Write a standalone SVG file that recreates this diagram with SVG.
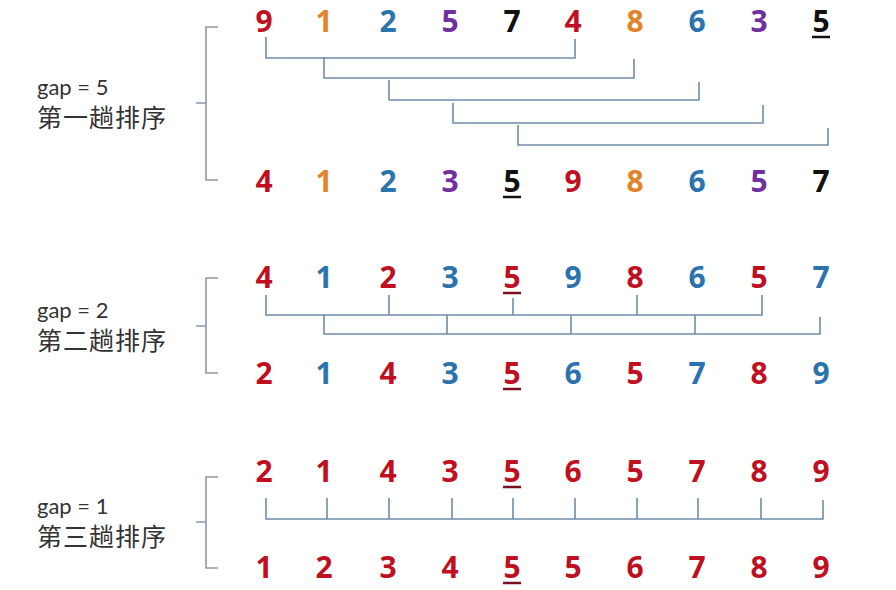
<svg xmlns="http://www.w3.org/2000/svg" width="896" height="590" viewBox="0 0 896 590">
<style>
.n{font-family:"Open Sans",Lato,"Liberation Sans",sans-serif;font-weight:bold;font-size:30px;text-anchor:middle}
.r{fill:#c00f1f}.o{fill:#e3832a}.b{fill:#2a73ae}.p{fill:#7030a0}.k{fill:#111}
.lbl{font-family:Lato,"Noto Sans CJK SC",sans-serif;font-size:22px;fill:#333}
.cjk{font-family:"Noto Sans CJK SC","Noto Sans",sans-serif;font-size:25px;letter-spacing:1px;fill:#333}
.ln{fill:none;stroke:#6f8ca6;stroke-width:1.6}
.br{fill:none;stroke:#8a99a8;stroke-width:1.6}
.ul{stroke-width:2.5}
</style>
<rect width="896" height="590" fill="#fff"/>

<g id="pass1">
  <g id="label1">
    <text class="lbl" x="37" y="95">gap = 5</text>
    <text class="cjk" x="37" y="127">第一趟排序</text>
  </g>
  <path class="br" d="M218,27 H206 V180 H218 M206,103 H196"/>
  <g id="row1a">
    <text class="n r" x="264" y="32">9</text>
    <text class="n o" x="324" y="32">1</text>
    <text class="n b" x="388" y="32">2</text>
    <text class="n p" x="450" y="32">5</text>
    <text class="n k" x="512" y="32">7</text>
    <text class="n r" x="573" y="32">4</text>
    <text class="n o" x="635" y="32">8</text>
    <text class="n b" x="697" y="32">6</text>
    <text class="n p" x="759" y="32">3</text>
    <text class="n k" x="821" y="32">5</text>
    <line class="ul" x1="812" y1="37" x2="830" y2="37" stroke="#111"/>
  </g>
  <g id="row1b">
    <text class="n r" x="264" y="192">4</text>
    <text class="n o" x="324" y="192">1</text>
    <text class="n b" x="388" y="192">2</text>
    <text class="n p" x="450" y="192">3</text>
    <text class="n k" x="512" y="192">5</text>
    <text class="n r" x="573" y="192">9</text>
    <text class="n o" x="635" y="192">8</text>
    <text class="n b" x="697" y="192">6</text>
    <text class="n p" x="759" y="192">5</text>
    <text class="n k" x="821" y="192">7</text>
    <line class="ul" x1="503" y1="197" x2="521" y2="197" stroke="#111"/>
  </g>
</g>

<g id="pass2">
  <g id="label2">
    <text class="lbl" x="37" y="318">gap = 2</text>
    <text class="cjk" x="37" y="350">第二趟排序</text>
  </g>
  <path class="br" d="M218,278 H206 V373 H218 M206,326 H196"/>
  <g id="row2a">
    <text class="n r" x="264" y="288">4</text>
    <text class="n b" x="324" y="288">1</text>
    <text class="n r" x="388" y="288">2</text>
    <text class="n b" x="450" y="288">3</text>
    <text class="n r" x="512" y="288">5</text>
    <text class="n b" x="573" y="288">9</text>
    <text class="n r" x="635" y="288">8</text>
    <text class="n b" x="697" y="288">6</text>
    <text class="n r" x="759" y="288">5</text>
    <text class="n b" x="821" y="288">7</text>
    <line class="ul" x1="503" y1="293" x2="521" y2="293" stroke="#7a1020"/>
  </g>
  <g id="row2b">
    <text class="n r" x="264" y="384">2</text>
    <text class="n b" x="324" y="384">1</text>
    <text class="n r" x="388" y="384">4</text>
    <text class="n b" x="450" y="384">3</text>
    <text class="n r" x="512" y="384">5</text>
    <text class="n b" x="573" y="384">6</text>
    <text class="n r" x="635" y="384">5</text>
    <text class="n b" x="697" y="384">7</text>
    <text class="n r" x="759" y="384">8</text>
    <text class="n b" x="821" y="384">9</text>
    <line class="ul" x1="503" y1="389" x2="521" y2="389" stroke="#7a1020"/>
  </g>
</g>

<g id="pass3">
  <g id="label3">
    <text class="lbl" x="37" y="514">gap = 1</text>
    <text class="cjk" x="37" y="546">第三趟排序</text>
  </g>
  <path class="br" d="M218,477 H206 V568 H218 M206,522 H196"/>
  <g id="row3a">
    <text class="n r" x="264" y="482">2</text>
    <text class="n r" x="324" y="482">1</text>
    <text class="n r" x="388" y="482">4</text>
    <text class="n r" x="450" y="482">3</text>
    <text class="n r" x="512" y="482">5</text>
    <text class="n r" x="573" y="482">6</text>
    <text class="n r" x="635" y="482">5</text>
    <text class="n r" x="697" y="482">7</text>
    <text class="n r" x="759" y="482">8</text>
    <text class="n r" x="821" y="482">9</text>
    <line class="ul" x1="503" y1="487" x2="521" y2="487" stroke="#7a1020"/>
  </g>
  <g id="row3b">
    <text class="n r" x="264" y="578">1</text>
    <text class="n r" x="324" y="578">2</text>
    <text class="n r" x="388" y="578">3</text>
    <text class="n r" x="450" y="578">4</text>
    <text class="n r" x="512" y="578">5</text>
    <text class="n r" x="573" y="578">5</text>
    <text class="n r" x="635" y="578">6</text>
    <text class="n r" x="697" y="578">7</text>
    <text class="n r" x="759" y="578">8</text>
    <text class="n r" x="821" y="578">9</text>
    <line class="ul" x1="503" y1="583" x2="521" y2="583" stroke="#7a1020"/>
  </g>
</g>

<g id="connectors">
  <path class="ln" d="M266,37 V58 H575 V39"/>
  <path class="ln" d="M324,57 V78 H634 V59"/>
  <path class="ln" d="M389,80 V100 H699 V82"/>
  <path class="ln" d="M453,103 V123 H763 V105"/>
  <path class="ln" d="M518,125 V145 H828 V128"/>

  <path class="ln" d="M266,295 V315 H762 V295 M389,295 V315 M513,298 V315 M637,295 V315"/>
  <path class="ln" d="M324,315 V334 H820 V317 M447,315 V334 M571,315 V334 M695,315 V334"/>

  <path class="ln" d="M266,498 V519 H823 V500 M327,498 V519 M389,498 V519 M452,498 V519 M513,498 V519 M575,498 V519 M637,498 V519 M698,498 V519 M761,498 V519"/>
</g>
</svg>
